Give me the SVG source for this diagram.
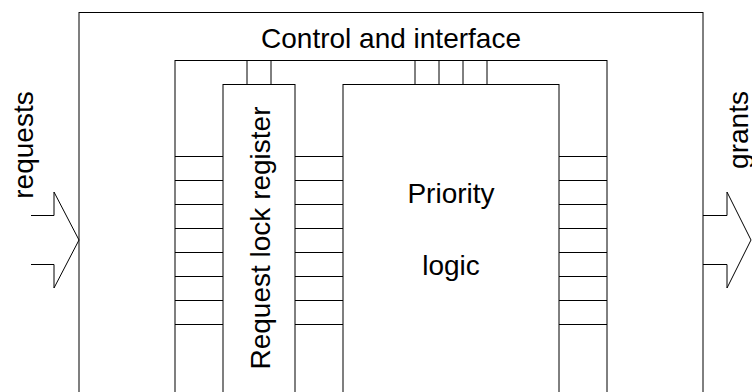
<svg xmlns="http://www.w3.org/2000/svg" width="752" height="392" viewBox="0 0 752 392">
  <style>
    .box { fill: none; stroke: #000; stroke-width: 1; }
    .wire { fill: none; stroke: #000; stroke-width: 1; }
    .bus { fill: none; stroke: #000; stroke-width: 1; stroke-linejoin: miter; }
    .label { font-family: "Liberation Sans", Arial, sans-serif; font-size: 28px; fill: #000; }
  </style>
  <rect width="752" height="392" fill="#fff"/>

  <!-- outer block: control and interface -->
  <g id="control-interface">
    <rect class="box" x="79" y="12.5" width="624" height="420"/>
    <rect class="box" x="175" y="60.5" width="432" height="380"/>
    <text class="label" x="391" y="48" text-anchor="middle">Control and interface</text>
  </g>

  <!-- request lock register -->
  <g id="request-lock-register">
    <rect class="box" x="223" y="84.5" width="72" height="360"/>
    <text class="label" transform="translate(270,238) rotate(-90)" text-anchor="middle">Request lock register</text>
  </g>

  <!-- priority logic -->
  <g id="priority-logic">
    <rect class="box" x="343" y="84.5" width="216" height="360"/>
    <text class="label" x="451" y="203" text-anchor="middle">Priority</text>
    <text class="label" x="451" y="275" text-anchor="middle">logic</text>
  </g>

  <!-- external request input -->
  <g id="requests">
    <path class="bus" d="M31,215.5 H54 V192 L79,240 L54,288 V264.5 H31"/>
    <text class="label" transform="translate(33,145) rotate(-90)" text-anchor="middle">requests</text>
  </g>

  <!-- external grant output -->
  <g id="grants">
    <path class="bus" d="M703,215.5 H727 V192 L751,240 L727,288 V264.5 H703"/>
    <text class="label" transform="translate(748,130) rotate(-90)" text-anchor="middle">grants</text>
  </g>

  <!-- signal rungs between blocks -->
  <g id="connectors" class="wire">
    <!-- control to register -->
    <path d="M247,60.5 V84.5 M271,60.5 V84.5"/>
    <!-- control to priority logic -->
    <path d="M415,60.5 V84.5 M439,60.5 V84.5 M463,60.5 V84.5 M487,60.5 V84.5"/>
    <!-- control to register (left side) -->
    <path d="M175,156.5 H223 M175,180.5 H223 M175,204.5 H223 M175,228.5 H223 M175,252.5 H223 M175,276.5 H223 M175,300.5 H223 M175,324.5 H223"/>
    <!-- register to priority logic -->
    <path d="M295,156.5 H343 M295,180.5 H343 M295,204.5 H343 M295,228.5 H343 M295,252.5 H343 M295,276.5 H343 M295,300.5 H343 M295,324.5 H343"/>
    <!-- priority logic to control (right side) -->
    <path d="M559,156.5 H607 M559,180.5 H607 M559,204.5 H607 M559,228.5 H607 M559,252.5 H607 M559,276.5 H607 M559,300.5 H607 M559,324.5 H607"/>
  </g>
</svg>
